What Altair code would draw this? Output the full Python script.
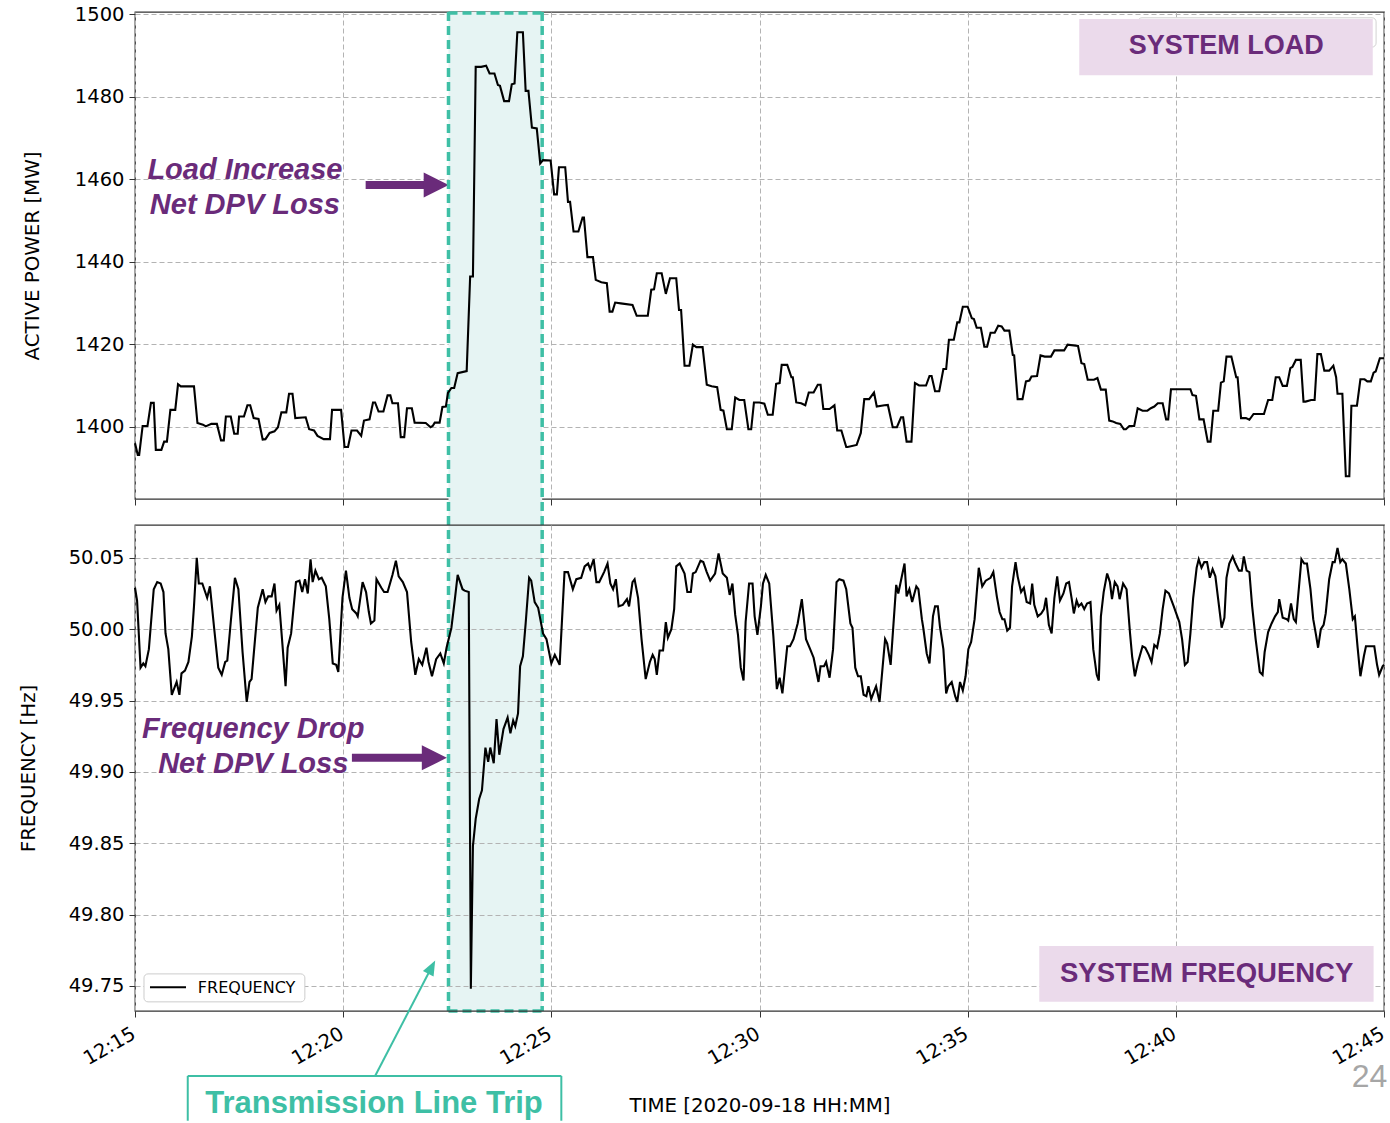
import altair as alt
import pandas as pd

# ---------------------------------------------------------------------------
# Data: seconds after 12:15:00 on 2020-09-18
# ---------------------------------------------------------------------------
LOAD_SEC = [
    0, 4, 6, 11, 18, 23, 27, 30, 38, 42,
    46, 51, 58, 62, 66, 85, 90, 98, 102, 110,
    118, 124, 128, 131, 138, 143, 148, 150, 157, 162,
    166, 171, 178, 184, 188, 194, 201, 206, 211, 218,
    222, 227, 231, 246, 251, 258, 263, 272, 281, 284,
    297, 302, 307, 312, 320, 326, 330, 338, 343, 346,
    351, 358, 364, 368, 371, 379, 383, 388, 392, 399,
    403, 419, 426, 429, 432, 439, 443, 448, 451, 456,
    460, 465, 478, 483, 487, 491, 499, 506, 511, 518,
    523, 526, 532, 539, 543, 547, 551, 559, 563, 567,
    572, 579, 584, 588, 599, 604, 608, 611, 620, 624,
    627, 632, 639, 645, 647, 652, 660, 664, 672, 680,
    684, 688, 692, 700, 717, 723, 739, 744, 748, 752,
    759, 765, 771, 780, 784, 787, 792, 799, 804, 809,
    818, 824, 831, 839, 844, 848, 853, 860, 865, 871,
    878, 884, 888, 892, 900, 907, 912, 919, 924, 929,
    932, 940, 946, 948, 953, 960, 966, 971, 978, 984,
    988, 992, 1001, 1008, 1012, 1018, 1025, 1027, 1040, 1046,
    1051, 1058, 1065, 1069, 1080, 1085, 1092, 1098, 1104, 1107,
    1112, 1119, 1124, 1130, 1140, 1145, 1148, 1153, 1159, 1165,
    1169, 1173, 1180, 1185, 1188, 1193, 1200, 1206, 1209, 1213,
    1219, 1224, 1228, 1233, 1239, 1244, 1249, 1253, 1260, 1265,
    1267, 1272, 1279, 1284, 1289, 1292, 1300, 1305, 1311, 1320,
    1325, 1339, 1344, 1359, 1364, 1368, 1373, 1382, 1387, 1392,
    1399, 1404, 1409, 1414, 1420, 1425, 1428, 1433, 1440, 1445,
    1452, 1459, 1464, 1469, 1474, 1481, 1486, 1489, 1493, 1507,
    1513, 1521, 1524, 1529, 1534, 1540, 1546, 1550, 1554, 1561,
    1565, 1569, 1573, 1580, 1587, 1589, 1594, 1601, 1606, 1612,
    1627, 1633, 1639, 1644, 1649, 1654, 1660, 1665, 1668, 1673,
    1680, 1684, 1687, 1695, 1700, 1704, 1709, 1714, 1721, 1727,
    1731, 1733, 1740, 1745, 1750, 1753, 1761, 1766, 1772, 1776,
    1781, 1785, 1788, 1794, 1800,
]
LOAD_MW = [
    1396, 1393.2, 1393.2, 1400.2, 1400.2, 1405.8, 1405.8, 1394.4, 1394.4, 1396.4,
    1396.4, 1404.1, 1404.1, 1410.3, 1409.8, 1409.8, 1400.9, 1400.5, 1400.1, 1400.7,
    1400.7, 1396.7, 1396.7, 1402.5, 1402.5, 1398.3, 1398.3, 1402.5, 1402.5, 1405.2,
    1405.2, 1402.1, 1401.9, 1396.9, 1397, 1398.5, 1398.9, 1399.9, 1403.5, 1403.5,
    1408, 1408, 1402.1, 1402.3, 1399.4, 1399.1, 1397.8, 1397, 1397, 1404.1,
    1404.1, 1395.1, 1395.1, 1399.1, 1399.1, 1397.8, 1401.5, 1401.8, 1405.9, 1405.9,
    1403.7, 1403.7, 1407.6, 1407.6, 1405.7, 1405.7, 1397.5, 1397.5, 1404.5, 1404.5,
    1401, 1400.9, 1399.9, 1400.2, 1401, 1401, 1404.8, 1404.9, 1408.2, 1409.4,
    1409.4, 1413, 1413.5, 1436.4, 1436.4, 1487.2, 1487.2, 1487.5, 1485.6, 1485.6,
    1482.8, 1482.6, 1478.9, 1478.9, 1483, 1483.2, 1495.6, 1495.6, 1481.4, 1481.4,
    1472.5, 1472.3, 1463.8, 1464.6, 1464.5, 1456.3, 1456.3, 1462.9, 1462.9, 1454.5,
    1454.5, 1447.3, 1447.3, 1450.7, 1450.7, 1441.1, 1441.1, 1435.6, 1435, 1434.8,
    1427.9, 1427.9, 1430.1, 1429.9, 1429.5, 1426.9, 1426.9, 1433.2, 1433.3, 1437.2,
    1437.2, 1432.2, 1436, 1436, 1428.3, 1428.3, 1414.8, 1414.8, 1419.9, 1419.3,
    1419.3, 1410.2, 1409.8, 1409.6, 1404.1, 1403.9, 1399.4, 1399.4, 1407.1, 1406.5,
    1406.5, 1399.4, 1399.4, 1405.9, 1405.9, 1405.6, 1402.9, 1402.9, 1410.4, 1410.6,
    1415, 1415, 1412, 1412, 1405.9, 1405.7, 1405.2, 1408.3, 1408.3, 1410.2,
    1410.2, 1404.3, 1404.3, 1405.2, 1399.1, 1399.1, 1395.1, 1395.1, 1395.6, 1398.5,
    1406.7, 1406.7, 1408.3, 1404.9, 1405.2, 1405.3, 1399.9, 1399.9, 1402.3, 1402.3,
    1396.4, 1396.4, 1410.6, 1410, 1410, 1412.3, 1412.3, 1408.6, 1408.6, 1414,
    1414, 1421.1, 1421.1, 1425.3, 1425.3, 1429.1, 1429.1, 1426.3, 1426.1, 1424,
    1424, 1419.4, 1419.4, 1422.8, 1422.8, 1424.5, 1424.3, 1423.3, 1423.3, 1417.4,
    1417.3, 1406.7, 1406.7, 1411, 1411.2, 1412.2, 1412.3, 1417.3, 1417, 1417,
    1418.5, 1418.5, 1419.9, 1419.6, 1415.4, 1415.2, 1411.4, 1411.4, 1411.8, 1409,
    1409, 1401.5, 1401.3, 1400.9, 1400.7, 1399.4, 1399.4, 1400.2, 1400.2, 1404.5,
    1403.9, 1403.9, 1404.5, 1404.9, 1405.7, 1405.7, 1401.8, 1401.8, 1409.1, 1409.1,
    1409.1, 1409.1, 1407.7, 1407.5, 1401.8, 1401.8, 1396.4, 1396.4, 1403.9, 1403.9,
    1410.7, 1411, 1417, 1417, 1412, 1412, 1402.1, 1402.1, 1401.7, 1403.1,
    1403.1, 1406.5, 1406.5, 1412, 1412, 1409.9, 1409.9, 1414.2, 1414.5, 1416.2,
    1416.2, 1406.1, 1406.1, 1406.5, 1406.5, 1417.6, 1417.6, 1413.6, 1413.6, 1414.8,
    1412, 1408, 1408, 1388, 1388, 1405.1, 1405.1, 1411.5, 1411.5, 1411,
    1411, 1413.1, 1413.4, 1416.6, 1416.6,
]

FREQ_SEC = [
    0, 3, 8, 12, 15, 20, 27, 32, 37, 41,
    44, 48, 53, 60, 64, 67, 72, 77, 82, 85,
    89, 92, 97, 104, 108, 114, 120, 125, 130, 133,
    138, 144, 149, 155, 161, 165, 168, 173, 177, 184,
    188, 192, 197, 201, 204, 208, 213, 217, 220, 225,
    232, 237, 241, 245, 249, 253, 256, 260, 265, 269,
    275, 280, 285, 290, 293, 299, 304, 309, 313, 319,
    321, 328, 333, 337, 340, 345, 348, 355, 359, 364,
    371, 376, 380, 386, 392, 398, 404, 409, 414, 420,
    423, 428, 434, 440, 445, 449, 456, 461, 465, 472,
    475, 481, 484, 487, 491, 496, 500, 505, 509, 512,
    517, 521, 525, 531, 537, 541, 545, 548, 552, 555,
    559, 563, 568, 571, 576, 581, 588, 593, 600, 605,
    612, 619, 624, 631, 636, 643, 648, 653, 656, 661,
    665, 669, 676, 681, 685, 689, 693, 697, 703, 709,
    712, 717, 720, 725, 730, 736, 742, 746, 749, 752,
    756, 761, 765, 768, 773, 777, 780, 785, 792, 796,
    801, 804, 808, 815, 819, 824, 829, 836, 841, 847,
    853, 857, 861, 865, 869, 873, 877, 880, 885, 890,
    893, 897, 902, 905, 909, 914, 920, 925, 929, 933,
    940, 944, 949, 955, 961, 967, 973, 978, 985, 988,
    993, 996, 1001, 1006, 1011, 1015, 1021, 1025, 1031, 1034,
    1038, 1042, 1046, 1050, 1054, 1057, 1061, 1064, 1068, 1073,
    1081, 1084, 1089, 1097, 1100, 1109, 1112, 1116, 1120, 1126,
    1129, 1134, 1136, 1141, 1145, 1150, 1153, 1157, 1160, 1165,
    1169, 1172, 1177, 1182, 1185, 1189, 1193, 1197, 1201, 1205,
    1210, 1216, 1221, 1226, 1233, 1237, 1242, 1246, 1250, 1253,
    1257, 1261, 1264, 1269, 1272, 1277, 1281, 1285, 1290, 1293,
    1296, 1301, 1306, 1310, 1313, 1317, 1321, 1325, 1329, 1333,
    1338, 1342, 1346, 1350, 1353, 1357, 1360, 1364, 1368, 1372,
    1377, 1381, 1386, 1389, 1392, 1396, 1401, 1405, 1408, 1412,
    1416, 1419, 1424, 1429, 1434, 1437, 1441, 1445, 1452, 1456,
    1461, 1465, 1469, 1473, 1477, 1481, 1485, 1490, 1497, 1505,
    1509, 1513, 1517, 1521, 1525, 1530, 1533, 1537, 1541, 1545,
    1549, 1553, 1557, 1561, 1566, 1570, 1573, 1577, 1582, 1586,
    1591, 1595, 1598, 1602, 1606, 1610, 1615, 1621, 1625, 1628,
    1633, 1638, 1643, 1647, 1649, 1654, 1660, 1662, 1666, 1670,
    1673, 1681, 1685, 1689, 1694, 1698, 1702, 1705, 1709, 1713,
    1716, 1721, 1726, 1729, 1733, 1737, 1740, 1745, 1750, 1755,
    1758, 1762, 1766, 1771, 1774, 1779, 1786, 1790, 1793, 1798,
    1800,
]
FREQ_HZ = [
    50.029, 50.020, 49.973, 49.976, 49.974, 49.986, 50.028, 50.033, 50.032, 50.026,
    49.997, 49.986, 49.954, 49.963, 49.954, 49.969, 49.971, 49.977, 49.995, 50.016,
    50.050, 50.032, 50.032, 50.022, 50.030, 50.001, 49.973, 49.968, 49.977, 49.978,
    50.005, 50.036, 50.028, 49.984, 49.949, 49.963, 49.965, 49.993, 50.015, 50.028,
    50.019, 50.023, 50.023, 50.032, 50.013, 50.017, 49.986, 49.960, 49.987, 49.997,
    50.033, 50.034, 50.026, 50.035, 50.025, 50.049, 50.033, 50.041, 50.035, 50.036,
    50.030, 50.007, 49.976, 49.975, 49.970, 50.022, 50.041, 50.022, 50.014, 50.011,
    50.009, 50.033, 50.026, 50.012, 50.004, 50.006, 50.035, 50.029, 50.026, 50.026,
    50.038, 50.048, 50.037, 50.033, 50.026, 49.991, 49.968, 49.979, 49.975, 49.987,
    49.977, 49.967, 49.979, 49.983, 49.976, 49.987, 50.001, 50.021, 50.038, 50.028,
    50.027, 50.026, 49.748, 49.848, 49.867, 49.881, 49.887, 49.917, 49.907, 49.917,
    49.906, 49.937, 49.912, 49.930, 49.938, 49.927, 49.936, 49.932, 49.941, 49.974,
    49.981, 50.004, 50.036, 50.034, 50.019, 50.015, 49.997, 49.993, 49.976, 49.982,
    49.975, 50.040, 50.040, 50.028, 50.035, 50.036, 50.044, 50.046, 50.042, 50.049,
    50.033, 50.033, 50.040, 50.046, 50.032, 50.028, 50.035, 50.016, 50.017, 50.021,
    50.016, 50.033, 50.035, 50.022, 49.993, 49.965, 49.977, 49.982, 49.979, 49.968,
    49.985, 49.985, 50.005, 49.994, 50.000, 50.014, 50.044, 50.046, 50.039, 50.026,
    50.026, 50.039, 50.040, 50.048, 50.047, 50.040, 50.034, 50.039, 50.053, 50.039,
    50.036, 50.024, 50.032, 50.010, 49.996, 49.973, 49.964, 50.005, 50.032, 50.032,
    50.009, 49.996, 50.016, 50.032, 50.038, 50.032, 49.995, 49.958, 49.966, 49.955,
    49.988, 49.988, 49.993, 50.004, 50.021, 49.993, 49.986, 49.980, 49.963, 49.974,
    49.974, 49.977, 49.966, 49.986, 50.033, 50.035, 50.034, 50.028, 50.004, 50.001,
    49.973, 49.967, 49.967, 49.954, 49.953, 49.960, 49.951, 49.955, 49.960, 49.949,
    49.993, 49.990, 49.975, 50.031, 50.025, 50.046, 50.023, 50.028, 50.019, 50.030,
    50.028, 50.007, 50.001, 49.983, 49.976, 50.009, 50.016, 50.016, 50.002, 49.986,
    49.955, 49.960, 49.963, 49.953, 49.949, 49.963, 49.957, 49.967, 49.986, 49.991,
    50.007, 50.043, 50.030, 50.034, 50.036, 50.040, 50.023, 50.012, 50.007, 50.007,
    49.999, 50.001, 50.030, 50.047, 50.037, 50.026, 50.029, 50.019, 50.018, 50.032,
    50.017, 50.009, 50.011, 50.014, 50.022, 50.003, 49.997, 50.022, 50.037, 50.020,
    50.025, 50.032, 50.033, 50.021, 50.011, 50.020, 50.016, 50.018, 50.014, 50.018,
    50.019, 49.986, 49.968, 49.964, 50.009, 50.026, 50.039, 50.033, 50.021, 50.033,
    50.030, 50.021, 50.032, 50.028, 49.997, 49.981, 49.967, 49.976, 49.988, 49.987,
    49.982, 49.977, 49.989, 49.987, 49.997, 50.014, 50.027, 50.025, 50.016, 50.005,
    49.993, 49.975, 49.977, 49.997, 50.022, 50.043, 50.049, 50.043, 50.047, 50.047,
    50.036, 50.042, 50.037, 50.021, 50.001, 50.008, 50.036, 50.046, 50.051, 50.046,
    50.041, 50.041, 50.051, 50.041, 50.040, 50.016, 49.993, 49.970, 49.968, 49.984,
    49.998, 50.004, 50.009, 50.012, 50.021, 50.008, 50.007, 50.006, 50.018, 50.007,
    50.005, 50.049, 50.046, 50.046, 50.028, 50.007, 49.996, 49.987, 50.000, 50.003,
    50.011, 50.035, 50.047, 50.047, 50.057, 50.047, 50.049, 50.046, 50.028, 50.007,
    50.009, 49.987, 49.967, 49.981, 49.988, 49.988, 49.988, 49.975, 49.968, 49.974,
    49.975,
]

MINUTE_TICKS = [0, 5, 10, 15, 20, 25, 30]          # minutes after 12:15
MW_TICKS = [1400, 1420, 1440, 1460, 1480, 1500]
HZ_TICKS = [49.75, 49.80, 49.85, 49.90, 49.95, 50.00, 50.05]
TRIP_WINDOW = [7.53, 9.78]                          # minutes after 12:15
SERIES_NAME = "FREQUENCY"

# ---------------------------------------------------------------------------
# Layout and style
# ---------------------------------------------------------------------------
W, H_TOP, H_BOT, GAP = 1249, 487, 486, 26
PURPLE = "#6a2b7a"
PINK = "#ebdaeb"
TEAL = "#3ebfa5"
TEAL_FILL = "#e6f4f3"
AX_FONT = "DejaVu Sans"
NOTE_FONT = "Liberation Sans"

x_scale = alt.Scale(domain=[0, 30], nice=False, zero=False)
mw_scale = alt.Scale(domain=[1382.5, 1500.5], nice=False, zero=False)
hz_scale = alt.Scale(domain=[49.7324, 50.073], nice=False, zero=False)

ax_x_top = alt.Axis(values=MINUTE_TICKS, labels=False, title=None, grid=True,
                    ticks=True, tickSize=6)
ax_x_bot = alt.Axis(values=MINUTE_TICKS, labelExpr="'12:' + (15 + datum.value)",
                    labelAngle=330, labelAlign="right", labelBaseline="top",
                    labelPadding=7, labelOffset=-6, labelFlush=False,
                    labelOverlap=False,
                    title="TIME [2020-09-18 HH:MM]", titleX=W / 2, titleY=94,
                    titleAlign="center", titleBaseline="middle")
ax_mw = alt.Axis(values=MW_TICKS, format="d", title="ACTIVE POWER [MW]",
                 titleX=-103, titleY=H_TOP / 2, titleAngle=270,
                 titleAlign="center", titleBaseline="middle", labelPadding=5)
ax_hz = alt.Axis(values=HZ_TICKS, format=".2f", title="FREQUENCY [Hz]",
                 titleX=-107, titleY=H_BOT / 2, titleAngle=270,
                 titleAlign="center", titleBaseline="middle", labelPadding=5)


def xt(field):
    return alt.X(field, type="quantitative", scale=x_scale, axis=ax_x_top)


def xb(field):
    return alt.X(field, type="quantitative", scale=x_scale, axis=ax_x_bot)


def ymw(field):
    return alt.Y(field, type="quantitative", scale=mw_scale, axis=ax_mw)


def yhz(field):
    return alt.Y(field, type="quantitative", scale=hz_scale, axis=ax_hz)


def row(**kw):
    return pd.DataFrame({k: (v if isinstance(v, list) else [v]) for k, v in kw.items()})


load = pd.DataFrame({"minute": [s / 60 for s in LOAD_SEC], "mw": LOAD_MW})
freq = pd.DataFrame({"minute": [s / 60 for s in FREQ_SEC], "hz": FREQ_HZ})

# ---------------------------------------------------------------------------
# Upper panel: system load
# ---------------------------------------------------------------------------
full_h = H_TOP + GAP + H_BOT
window = row(x=TRIP_WINDOW[0], x2=TRIP_WINDOW[1])
dash = dict(color=TEAL, strokeWidth=3.5, strokeDash=[9, 5])

band = alt.Chart(window).mark_rect(fill=TEAL_FILL).encode(
    x=xt("x"), x2="x2:Q", y=alt.value(0), y2=alt.value(full_h))
band_sides = alt.Chart(row(x=TRIP_WINDOW)).mark_rule(**dash).encode(
    x=xt("x"), y=alt.value(0), y2=alt.value(full_h))
band_cap = alt.Chart(window).mark_rule(**dash).encode(
    x=xt("x"), x2="x2:Q", y=alt.value(1))
band_floor = alt.Chart(window).mark_rule(**dash).encode(
    x=xt("x"), x2="x2:Q", y=alt.value(full_h))

legend_ghost = alt.Chart(row(x=24.09, x2=29.81, y=1499.1, y2=1492.0)).mark_rect(
    fill="white", stroke="#d2d2d2", strokeWidth=1, cornerRadius=4).encode(
    x=xt("x"), x2="x2:Q", y=ymw("y"), y2="y2:Q")
load_tag_box = alt.Chart(row(x=22.68, x2=29.73, y=1498.8, y2=1485.2)).mark_rect(
    fill=PINK).encode(x=xt("x"), x2="x2:Q", y=ymw("y"), y2="y2:Q")
load_tag = alt.Chart(row(x=26.21, y=1492.25, t="SYSTEM LOAD")).mark_text(
    font=NOTE_FONT, fontSize=27, fontWeight="bold", color=PURPLE,
    align="center", baseline="middle").encode(x=xt("x"), y=ymw("y"), text="t:N")

load_note = alt.Chart(row(x=[2.64, 2.64], y=[1462.2, 1453.75],
                          t=["Load Increase", "Net DPV Loss"])).mark_text(
    font=NOTE_FONT, fontSize=29, fontWeight="bold", fontStyle="italic",
    color=PURPLE, align="center", baseline="middle").encode(
    x=xt("x"), y=ymw("y"), text="t:N")
load_shaft = alt.Chart(row(x=5.54, x2=6.99, y=1458.6)).mark_rule(
    color=PURPLE, strokeWidth=8, strokeCap="butt").encode(
    x=xt("x"), x2="x2:Q", y=ymw("y"))
load_head = alt.Chart(row(x=7.235, y=1458.6)).mark_point(
    shape="M-1,-1L1,0L-1,1Z", filled=True, size=625, color=PURPLE,
    opacity=1, strokeWidth=0).encode(x=xt("x"), y=ymw("y"))

load_line = alt.Chart(load).mark_line(color="black", strokeWidth=2.1).encode(
    x=xt("minute"), y=ymw("mw"))

top = alt.layer(
    band, legend_ghost, load_tag_box, load_tag, load_note, load_shaft, load_head,
    band_sides, band_cap, band_floor, load_line,
).properties(width=W, height=H_TOP)

# ---------------------------------------------------------------------------
# Lower panel: system frequency
# ---------------------------------------------------------------------------
freq_tag_box = alt.Chart(row(x=21.72, x2=29.75, y=49.778, y2=49.7389)).mark_rect(
    fill=PINK).encode(x=xb("x"), x2="x2:Q", y=yhz("y"), y2="y2:Q")
freq_tag = alt.Chart(row(x=25.74, y=49.7584, t="SYSTEM FREQUENCY")).mark_text(
    font=NOTE_FONT, fontSize=27.5, fontWeight="bold", color=PURPLE,
    align="center", baseline="middle").encode(x=xb("x"), y=yhz("y"), text="t:N")

freq_note = alt.Chart(row(x=[2.84, 2.84], y=[49.9301, 49.9056],
                          t=["Frequency Drop", "Net DPV Loss"])).mark_text(
    font=NOTE_FONT, fontSize=29, fontWeight="bold", fontStyle="italic",
    color=PURPLE, align="center", baseline="middle").encode(
    x=xb("x"), y=yhz("y"), text="t:N")
freq_shaft = alt.Chart(row(x=5.21, x2=6.95, y=49.9098)).mark_rule(
    color=PURPLE, strokeWidth=8, strokeCap="butt").encode(
    x=xb("x"), x2="x2:Q", y=yhz("y"))
freq_head = alt.Chart(row(x=7.19, y=49.9098)).mark_point(
    shape="M-1,-1L1,0L-1,1Z", filled=True, size=625, color=PURPLE,
    opacity=1, strokeWidth=0).encode(x=xb("x"), y=yhz("y"))

# legend box in the lower-left corner
key_box = alt.Chart(row(x=0.216, x2=4.08, y=49.7584, y2=49.7388)).mark_rect(
    fill="white", stroke="#cccccc", strokeWidth=1, cornerRadius=4).encode(
    x=xb("x"), x2="x2:Q", y=yhz("y"), y2="y2:Q")
key_line = alt.Chart(row(x=0.36, x2=1.225, y=49.7490)).mark_rule(
    color="black", strokeWidth=2).encode(x=xb("x"), x2="x2:Q", y=yhz("y"))
key_text = alt.Chart(row(x=1.51, y=49.7486, t=SERIES_NAME)).mark_text(
    font=AX_FONT, fontSize=16, color="black", align="left",
    baseline="middle").encode(x=xb("x"), y=yhz("y"), text="t:N")

# callout below the time axis
trip_box_top = alt.Chart(row(x=1.267, x2=10.24, y=49.6869)).mark_rule(
    color=TEAL, strokeWidth=2).encode(x=xb("x"), x2="x2:Q", y=yhz("y"))
trip_box_sides = alt.Chart(row(x=[1.267, 10.24], y=[49.6869, 49.6869],
                               y2=[49.6555, 49.6555])).mark_rule(
    color=TEAL, strokeWidth=2).encode(x=xb("x"), y=yhz("y"), y2="y2:Q")
trip_text = alt.Chart(row(x=5.74, y=49.6675, t="Transmission Line Trip")).mark_text(
    font=NOTE_FONT, fontSize=31, fontWeight="bold", color=TEAL,
    align="center", baseline="middle").encode(x=xb("x"), y=yhz("y"), text="t:N")
trip_pointer = alt.Chart(row(x=5.767, x2=7.127, y=49.6869, y2=49.7632)).mark_rule(
    color=TEAL, strokeWidth=2).encode(x=xb("x"), x2="x2:Q", y=yhz("y"), y2="y2:Q")
trip_head = alt.Chart(row(x=7.127, y=49.7632)).mark_point(
    shape="M0,-1L0.8,1L-0.8,1Z", filled=True, size=225, angle=27.6, color=TEAL,
    opacity=1, strokeWidth=0).encode(x=xb("x"), y=yhz("y"))

page_no = alt.Chart(row(x=29.65, y=49.6860, t="24")).mark_text(
    font=NOTE_FONT, fontSize=32, color="#a6a6a6", align="center",
    baseline="middle").encode(x=xb("x"), y=yhz("y"), text="t:N")

freq_line = alt.Chart(freq).mark_line(color="black", strokeWidth=2.1).encode(
    x=xb("minute"), y=yhz("hz"))

bottom = alt.layer(
    freq_tag_box, freq_tag, freq_note, freq_shaft, freq_head,
    trip_box_top, trip_box_sides, trip_text, trip_pointer, trip_head, page_no,
    freq_line, key_box, key_line, key_text,
).properties(width=W, height=H_BOT)

chart = alt.vconcat(top, bottom, spacing=GAP, bounds="flush").configure(
    background="white",
    padding={"left": 17, "top": 3, "right": 0, "bottom": 0},
).configure_view(stroke="#333333", strokeWidth=1.3).configure_axis(
    domain=False, grid=True, gridColor="#b3b3b3", gridDash=[5, 3], gridWidth=1,
    tickColor="#333333", tickSize=6, tickWidth=1,
    labelFont=AX_FONT, labelFontSize=19.5, labelColor="black",
    titleFont=AX_FONT, titleFontSize=19.8, titleFontWeight="normal", titleColor="black",
)

chart.save("out.html", embed_options={"renderer": "svg", "actions": False})
